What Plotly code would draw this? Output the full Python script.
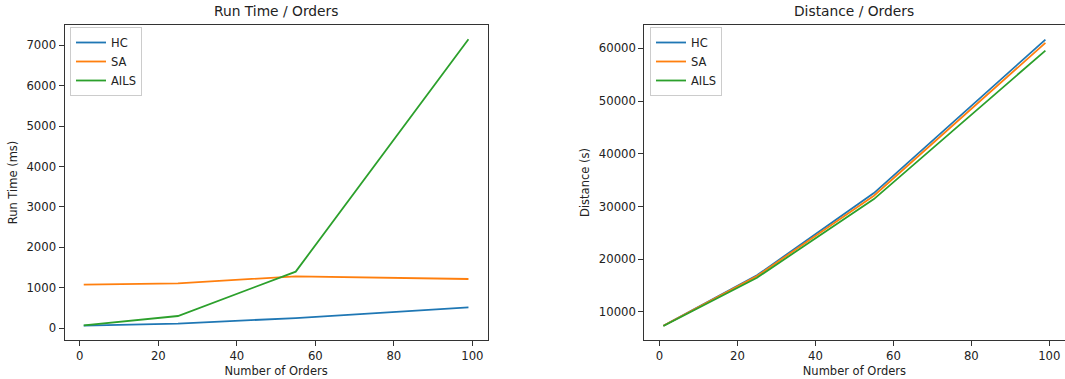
import plotly.graph_objects as go

orders = [1, 25, 55, 99]
run_hc = [59, 109, 248, 513]
run_sa = [1075, 1107, 1280, 1214]
run_ails = [67, 298, 1397, 7150]
dist_hc = [7400, 16950, 32540, 61650]
dist_sa = [7380, 16800, 32045, 61020]
dist_ails = [7350, 16500, 31400, 59560]

names = ["HC", "SA", "AILS"]
colors = ["#1f77b4", "#ff7f0e", "#2ca02c"]

W, H = 1065, 379
FONT = "DejaVu Sans"

fig = go.Figure()
for name, col, ys in zip(names, colors, [run_hc, run_sa, run_ails]):
    fig.add_trace(go.Scatter(x=orders, y=ys, mode="lines", name=name,
                             line=dict(color=col, width=1.8),
                             xaxis="x", yaxis="y", legend="legend"))
for name, col, ys in zip(names, colors, [dist_hc, dist_sa, dist_ails]):
    fig.add_trace(go.Scatter(x=orders, y=ys, mode="lines", name=name,
                             line=dict(color=col, width=1.8),
                             xaxis="x2", yaxis="y2", legend="legend2"))

def px_x(p):
    return p / W

def px_y(p):
    return (H - p) / H

axis_common = dict(showline=True, linecolor="#333333", linewidth=1, mirror=True,
                   ticks="outside", ticklen=5, tickcolor="#333333", showgrid=False,
                   zeroline=False, tickfont=dict(family=FONT, size=11.7, color="#222222"),
                   title_font=dict(family=FONT, size=11.5, color="#222222"))

legend_common = dict(xanchor="left", yanchor="top",
                     bgcolor="white", bordercolor="#cccccc", borderwidth=1,
                     font=dict(family=FONT, size=11.5, color="#222222"),
                     tracegroupgap=0, itemwidth=30)

ydom = [px_y(340), px_y(25)]
fig.update_layout(
    width=W, height=H,
    margin=dict(l=0, r=0, t=0, b=0),
    plot_bgcolor="white", paper_bgcolor="white",
    font=dict(family=FONT, color="#222222"),
    xaxis=dict(domain=[px_x(64.5), px_x(487.7)], range=[-3.9, 103.9],
               tickvals=[0, 20, 40, 60, 80, 100], anchor="y",
               title=dict(text="Number of Orders", standoff=4), **axis_common),
    yaxis=dict(domain=ydom, range=[-296, 7504], anchor="x",
               tickvals=[0, 1000, 2000, 3000, 4000, 5000, 6000, 7000], tickformat="d",
               title=dict(text="Run Time (ms)", standoff=6), **axis_common),
    xaxis2=dict(domain=[px_x(644.3), px_x(1064.5)], range=[-3.9, 103.9],
                tickvals=[0, 20, 40, 60, 80, 100], anchor="y2",
                title=dict(text="Number of Orders", standoff=4), **axis_common),
    yaxis2=dict(domain=ydom, range=[4685, 64415], anchor="x2",
                tickvals=[10000, 20000, 30000, 40000, 50000, 60000], tickformat="d",
                title=dict(text="Distance (s)", standoff=6), **axis_common),
    legend=dict(x=px_x(70), y=px_y(27), **legend_common),
    legend2=dict(x=px_x(650), y=px_y(27), **legend_common),
    showlegend=True,
    annotations=[
        dict(text="Run Time / Orders", x=(px_x(64.5) + px_x(487.7)) / 2, y=px_y(25) + 4 / H,
             xref="paper", yref="paper", xanchor="center", yanchor="bottom",
             showarrow=False, font=dict(family=FONT, size=13.8, color="#222222")),
        dict(text="Distance / Orders", x=(px_x(644.3) + px_x(1064.5)) / 2, y=px_y(25) + 4 / H,
             xref="paper", yref="paper", xanchor="center", yanchor="bottom",
             showarrow=False, font=dict(family=FONT, size=13.8, color="#222222")),
    ],
)

fig.write_html("out.html")
